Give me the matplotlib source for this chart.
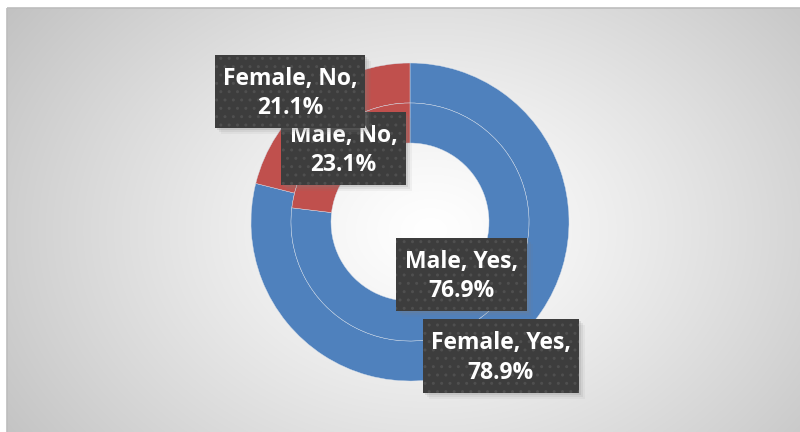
import numpy as np
import matplotlib.pyplot as plt
from matplotlib.patches import Rectangle

# survey answers, share of each group in percent
groups = ["Female", "Male"]
answers = ["Yes", "No"]
female_pct = [78.9, 21.1]
male_pct = [76.9, 23.1]
colors = ["#4F81BD", "#C0504D"]

plt.rcParams["hatch.linewidth"] = 1.0
W, H = 800, 432
fig = plt.figure(figsize=(W / 100, H / 100), dpi=100)
fig.patch.set_facecolor("white")

# background panel with a radial grey gradient
bg = fig.add_axes([0, 0, 1, 1])
bg.set_xlim(0, W)
bg.set_ylim(H, 0)
bg.axis("off")
x0, y0 = 7, 8
xx, yy = np.meshgrid(np.arange(x0, W), np.arange(y0, H))
cx, cy = 430, 230
d = np.hypot((xx - cx) / 1.0, (yy - cy) / 0.75)
d = d / d.max()
shade = 1.0 - 0.24 * np.clip(d, 0, 1) ** 1.2
bg.imshow(np.dstack([shade] * 3), extent=(x0, W, H, y0), interpolation="bilinear")
bg.add_patch(Rectangle((x0, y0), W - x0 + 2, H - y0 + 2, fill=False,
                       edgecolor="#bdbdbd", linewidth=1.2))

# donut rings: outer = Female, inner = Male
pcx, pcy, r_out = 410, 222, 159
ax = fig.add_axes([(pcx - r_out) / W, (H - pcy - r_out) / H,
                   2 * r_out / W, 2 * r_out / H])
ax.axis("off")
ring_w = 40 / r_out
wp = dict(width=ring_w, edgecolor="#d6dfeb", linewidth=0.3)
ax.pie(female_pct, radius=1.0, startangle=90, counterclock=False,
       colors=colors, wedgeprops=wp)
ax.pie(male_pct, radius=1.0 - ring_w, startangle=90, counterclock=False,
       colors=colors, wedgeprops=wp)
ax.set_xlim(-1, 1)
ax.set_ylim(-1, 1)
ax.set_aspect("equal")

# overlay for the data labels
top = fig.add_axes([0, 0, 1, 1])
top.set_xlim(0, W)
top.set_ylim(H, 0)
top.axis("off")
top.patch.set_alpha(0)

# (series, answer, box left, top, right, bottom in px)
label_boxes = [
    (1, 1, 281, 112, 406, 185),
    (0, 1, 215, 55, 365, 128),
    (1, 0, 396, 238, 527, 311),
    (0, 0, 423, 319, 579, 393),
]
values = [female_pct, male_pct]
z = 10
for g, a, l, t, r, b in label_boxes:
    # soft drop shadow
    for k, alpha in [(6, 0.08), (4, 0.12), (2, 0.18)]:
        top.add_patch(Rectangle((l + k, t + k), r - l, b - t, facecolor="#7f7f7f",
                                edgecolor="none", alpha=alpha, zorder=z))
    top.add_patch(Rectangle((l, t), r - l, b - t, facecolor="#3d3d3d",
                            edgecolor="#4f4f4f", hatch="..", linewidth=0,
                            zorder=z + 1))
    txt = f"{groups[g]}, {answers[a]},\n{values[g][a]:.1f}%"
    top.text((l + r) / 2, (t + b) / 2 + 2, txt, ha="center", va="center",
             color="white", fontsize=16.5, fontweight="bold", family="Open Sans",
             linespacing=1.3, zorder=z + 2)
    z += 3

fig.savefig("out.png", dpi=100)
